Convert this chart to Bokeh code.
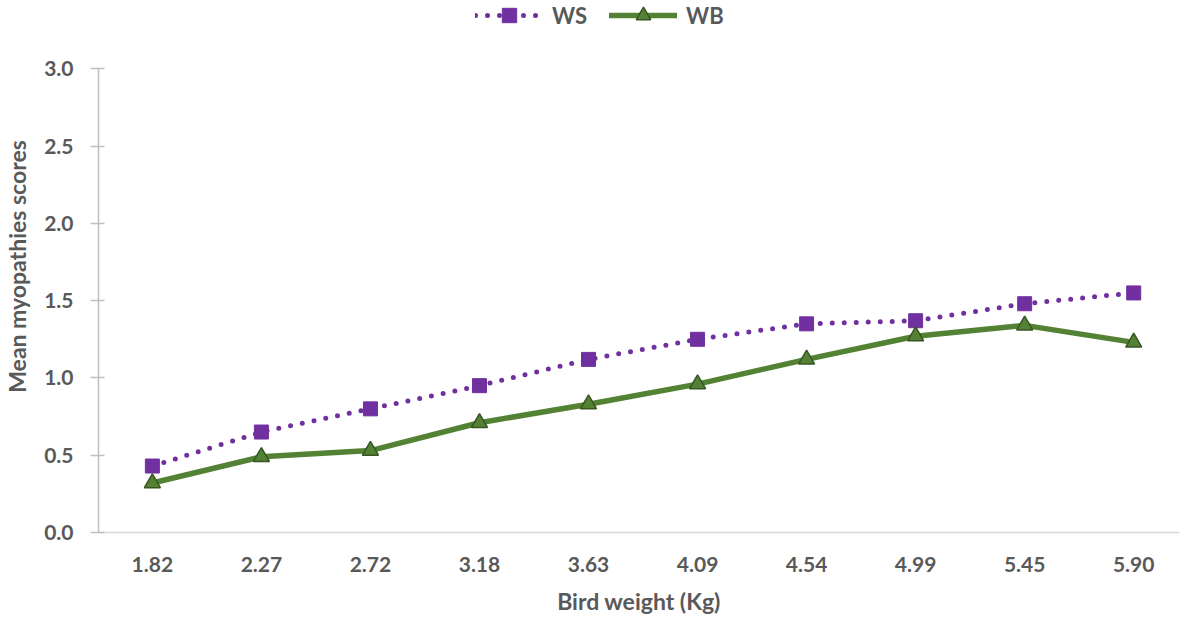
from bokeh.plotting import figure
from bokeh.models import Range1d, FixedTicker, Legend, LegendItem
from bokeh.embed import file_html
from bokeh.resources import INLINE

weights = ["1.82", "2.27", "2.72", "3.18", "3.63", "4.09", "4.54", "4.99", "5.45", "5.90"]
ws = [0.43, 0.65, 0.80, 0.95, 1.12, 1.25, 1.35, 1.37, 1.48, 1.55]
wb = [0.32, 0.49, 0.53, 0.71, 0.83, 0.96, 1.12, 1.27, 1.34, 1.23]
y_ticks = [0.0, 0.5, 1.0, 1.5, 2.0, 2.5, 3.0]

xs = list(range(len(weights)))
FONT = "Lato"
GREY = "#595959"

W, H = 1180, 617
FRAME_BOTTOM = 532
p = figure(width=W, height=H, output_backend="svg", toolbar_location=None,
           x_range=Range1d(-0.494, 9.42),
           y_range=Range1d(0, 3 * FRAME_BOTTOM / (FRAME_BOTTOM - 68.3)),
           min_border_left=97, min_border_right=1, min_border_top=0,
           min_border_bottom=H - FRAME_BOTTOM)
p.outline_line_color = None
p.xgrid.visible = False
p.ygrid.visible = False

# x axis
p.xaxis.ticker = FixedTicker(ticks=xs)
p.xaxis.major_label_overrides = {i: w for i, w in zip(xs, weights)}
p.xaxis.major_tick_line_color = None
p.xaxis.minor_tick_line_color = None
p.xaxis.axis_line_color = "#D9D9D9"
p.xaxis.axis_line_width = 1.5
p.xaxis.major_label_standoff = 18
p.xaxis.major_label_text_font = FONT
p.xaxis.major_label_text_font_style = "bold"
p.xaxis.major_label_text_font_size = "21px"
p.xaxis.major_label_text_color = GREY
p.xaxis.axis_label = "Bird weight (Kg)"
p.xaxis.axis_label_text_font = FONT
p.xaxis.axis_label_text_font_style = "bold"
p.xaxis.axis_label_text_font_size = "23px"
p.xaxis.axis_label_text_color = GREY
p.xaxis.axis_label_standoff = 12

# y axis
p.yaxis.ticker = FixedTicker(ticks=y_ticks)
p.yaxis.bounds = (y_ticks[0], y_ticks[-1])
p.yaxis.major_label_overrides = {t: f"{t:.1f}" for t in y_ticks}
p.yaxis.minor_tick_line_color = None
p.yaxis.axis_line_color = "#BFBFBF"
p.yaxis.axis_line_width = 1.5
p.yaxis.major_tick_line_color = "#BFBFBF"
p.yaxis.major_tick_line_width = 1.5
p.yaxis.major_tick_in = 6
p.yaxis.major_tick_out = 8
p.yaxis.major_label_standoff = 17
p.yaxis.major_label_text_font = FONT
p.yaxis.major_label_text_font_style = "bold"
p.yaxis.major_label_text_font_size = "21px"
p.yaxis.major_label_text_color = GREY
p.yaxis.axis_label = "Mean myopathies scores"
p.yaxis.axis_label_text_font = FONT
p.yaxis.axis_label_text_font_style = "bold"
p.yaxis.axis_label_text_font_size = "23px"
p.yaxis.axis_label_text_color = GREY
p.yaxis.axis_label_standoff = 10

PURPLE = "#7030A0"
GREEN = "#548235"

l1 = p.line(xs, ws, line_color=PURPLE, line_width=5, line_dash="0 12", line_cap="round")
s1 = p.scatter(xs, ws, marker="square", size=14, fill_color=PURPLE, line_color=PURPLE)
l2 = p.line(xs, wb, line_color=GREEN, line_width=5.5, line_cap="round")
s2 = p.scatter(xs, wb, marker="triangle", size=16, fill_color=GREEN, line_color="#375623", line_width=1.5)

legend = Legend(items=[LegendItem(label="WS", renderers=[l1, s1]),
                       LegendItem(label="WB", renderers=[l2, s2])],
                location=(377, FRAME_BOTTOM - 33), orientation="horizontal",
                border_line_color=None, background_fill_alpha=0,
                glyph_width=68, glyph_height=36, label_standoff=9, spacing=22,
                padding=0, margin=0,
                label_text_font=FONT, label_text_font_style="bold",
                label_text_font_size="22px", label_text_color=GREY)
p.add_layout(legend, "center")

open("out.html", "w").write(file_html(p, INLINE))
